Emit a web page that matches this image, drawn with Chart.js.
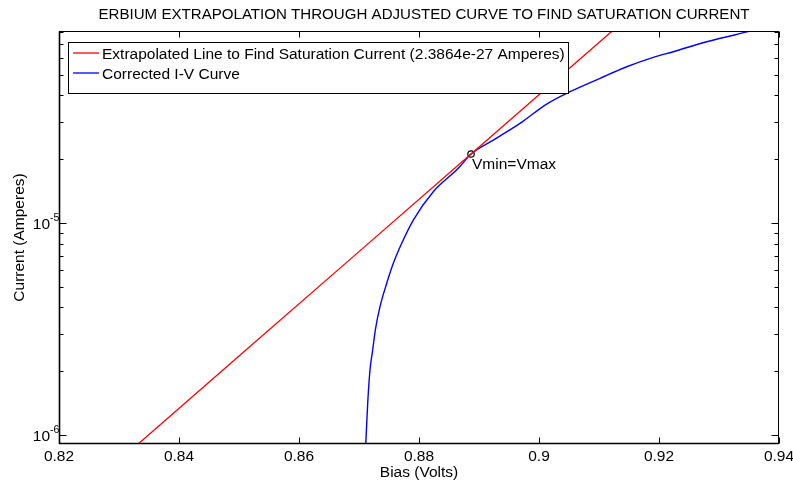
<!DOCTYPE html>
<html><head><meta charset="utf-8">
<script src="https://cdn.jsdelivr.net/npm/chart.js@4/dist/chart.umd.min.js"></script>
<style>html,body{margin:0;padding:0;background:#fff}canvas{display:block}</style>
</head><body>
<canvas id="c" width="793" height="483"></canvas>
<script>
// Axis ticks
const biasTicks = [0.82, 0.84, 0.86, 0.88, 0.90, 0.92, 0.94];
const biasTickLabels = ['0.82', '0.84', '0.86', '0.88', '0.9', '0.92', '0.94'];
const currentDecades = [1e-6, 1e-5];
const currentDecadeExponents = ['-6', '-5'];

// Extrapolated straight line (log-linear) toward the saturation current
const fitBias = [0.8332, 0.850, 0.870, 0.88867, 0.9122];
const fitCurrent = [9.07e-7, 2.36e-6, 7.33e-6, 2.116e-5, 8.05e-5];

// Corrected I-V curve
const curveBias = [0.87112, 0.87145, 0.87183, 0.87228, 0.87272, 0.87350, 0.87462, 0.87572,
  0.87712, 0.87905, 0.88238, 0.88655, 0.88867, 0.89238, 0.89683, 0.90128, 0.90517,
  0.91017, 0.91462, 0.91905, 0.92238, 0.92795, 0.93488];
const curveCurrent = [9.0e-7, 1.411e-6, 2.025e-6, 2.518e-6, 3.128e-6, 4.030e-6, 5.195e-6, 6.452e-6,
  8.021e-6, 1.033e-5, 1.405e-5, 1.811e-5, 2.116e-5, 2.462e-5, 2.953e-5, 3.641e-5, 4.162e-5,
  4.815e-5, 5.461e-5, 6.047e-5, 6.427e-5, 7.164e-5, 7.99e-5];

// Point where the line leaves the curve
const crossoverBias = [0.88867];
const crossoverCurrent = [2.116e-5];

const seriesNames = ['Extrapolated Line to Find Saturation Current (2.3864e-27 Amperes)', 'Corrected I-V Curve'];
const seriesColors = ['#ff0000', '#0000ff'];
const crossoverLabel = 'Vmin=Vmax';
const chartTitle = 'ERBIUM EXTRAPOLATION THROUGH ADJUSTED CURVE TO FIND SATURATION CURRENT';
const xTitle = 'Bias (Volts)';
const yTitle = 'Current (Amperes)';

const toPoints = (xs, ys) => xs.map((x, i) => ({x: x, y: ys[i]}));
const FONT = '"Liberation Sans", Arial, sans-serif';
const FS = '15.5px ';

const frame = {
  id: 'frame',
  afterDraw(chart) {
    const ctx = chart.ctx;
    const a = chart.chartArea;
    const xs = chart.scales.x, ys = chart.scales.y;
    const L = a.left + 0.5, R = a.right - 0.5, T = a.top + 0.5, B = a.bottom - 0.5;
    ctx.save();
    ctx.strokeStyle = '#000';
    ctx.fillStyle = '#000';
    ctx.lineWidth = 1;
    // box
    ctx.strokeRect(L, T, R - L, B - T);
    ctx.beginPath();
    ctx.moveTo(L, T); ctx.lineTo(L, B); ctx.lineTo(R, B);
    ctx.lineWidth = 1.6;
    ctx.stroke();
    ctx.lineWidth = 1;

    // x ticks
    ctx.font = FS + FONT;
    ctx.textAlign = 'center';
    ctx.textBaseline = 'alphabetic';
    biasTicks.forEach((v, i) => {
      const px = Math.round(xs.getPixelForValue(v)) + 0.5;
      ctx.beginPath();
      ctx.moveTo(px, B); ctx.lineTo(px, B - 6);
      ctx.moveTo(px, T); ctx.lineTo(px, T + 6);
      ctx.stroke();
      ctx.fillText(biasTickLabels[i], xs.getPixelForValue(v), 461);
    });

    // y ticks: decades and minor
    const ymin = ys.min, ymax = ys.max;
    for (let n = -7; n <= -4; n++) {
      for (let k = 1; k <= 9; k++) {
        const v = k * Math.pow(10, n);
        if (v < ymin || v > ymax) continue;
        const py = Math.round(ys.getPixelForValue(v)) + 0.5;
        const len = k === 1 ? 7 : 4;
        ctx.beginPath();
        ctx.moveTo(L, py); ctx.lineTo(L + len, py);
        ctx.moveTo(R, py); ctx.lineTo(R - len, py);
        ctx.stroke();
      }
    }
    currentDecades.forEach((v, i) => {
      const py = ys.getPixelForValue(v);
      ctx.font = FS + FONT;
      ctx.textAlign = 'right';
      ctx.fillText('10', 50, py + 6);
      ctx.font = '10.5px ' + FONT;
      ctx.textAlign = 'left';
      ctx.fillText(currentDecadeExponents[i], 50, py - 2);
    });

    // titles
    ctx.textAlign = 'center';
    ctx.font = '15.1px ' + FONT;
    ctx.fillText(chartTitle, (a.left + a.right) / 2 + 5, 19);
    ctx.font = FS + FONT;
    ctx.fillText(xTitle, (a.left + a.right) / 2, 477);
    ctx.save();
    ctx.translate(24, (a.top + a.bottom) / 2);
    ctx.rotate(-Math.PI / 2);
    ctx.fillText(yTitle, 0, 0);
    ctx.restore();

    // legend
    ctx.fillStyle = '#fff';
    ctx.fillRect(68, 42, 500, 51);
    ctx.strokeStyle = '#000';
    ctx.strokeRect(68.5, 42.5, 500, 51);
    ctx.textAlign = 'left';
    seriesNames.forEach((name, i) => {
      const ly = 53 + i * 20;
      ctx.strokeStyle = seriesColors[i];
      ctx.lineWidth = 1.3;
      ctx.beginPath();
      ctx.moveTo(73, ly); ctx.lineTo(99, ly);
      ctx.stroke();
      ctx.fillStyle = '#000';
      ctx.fillText(name, 102, ly + 5.5);
    });

    // crossover annotation
    const cx = xs.getPixelForValue(crossoverBias[0]);
    const cy = ys.getPixelForValue(crossoverCurrent[0]);
    ctx.fillStyle = '#000';
    ctx.textAlign = 'left';
    ctx.fillText(crossoverLabel, cx + 1, cy + 15);
    ctx.restore();
  }
};

new Chart(document.getElementById('c'), {
  type: 'scatter',
  data: {
    datasets: [
      {label: seriesNames[0], data: toPoints(fitBias, fitCurrent), showLine: true,
       borderColor: seriesColors[0], borderWidth: 1.3, pointRadius: 0, tension: 0},
      {label: seriesNames[1], data: toPoints(curveBias, curveCurrent), showLine: true,
       borderColor: seriesColors[1], borderWidth: 1.4, pointRadius: 0,
       cubicInterpolationMode: 'monotone'},
      {label: crossoverLabel, data: toPoints(crossoverBias, crossoverCurrent), showLine: false,
       pointRadius: 3.2, pointStyle: 'circle', borderColor: '#000', borderWidth: 1.2,
       backgroundColor: 'rgba(0,0,0,0)', clip: false}
    ]
  },
  options: {
    responsive: false,
    animation: false,
    devicePixelRatio: 1,
    layout: {padding: {left: 59, right: 14, top: 31, bottom: 39}},
    plugins: {legend: {display: false}, tooltip: {enabled: false}, title: {display: false}},
    scales: {
      x: {type: 'linear', min: 0.82, max: 0.94, display: false},
      y: {type: 'logarithmic', min: 9.07e-7, max: 8.05e-5, display: false}
    }
  },
  plugins: [frame]
});
</script>
</body></html>
